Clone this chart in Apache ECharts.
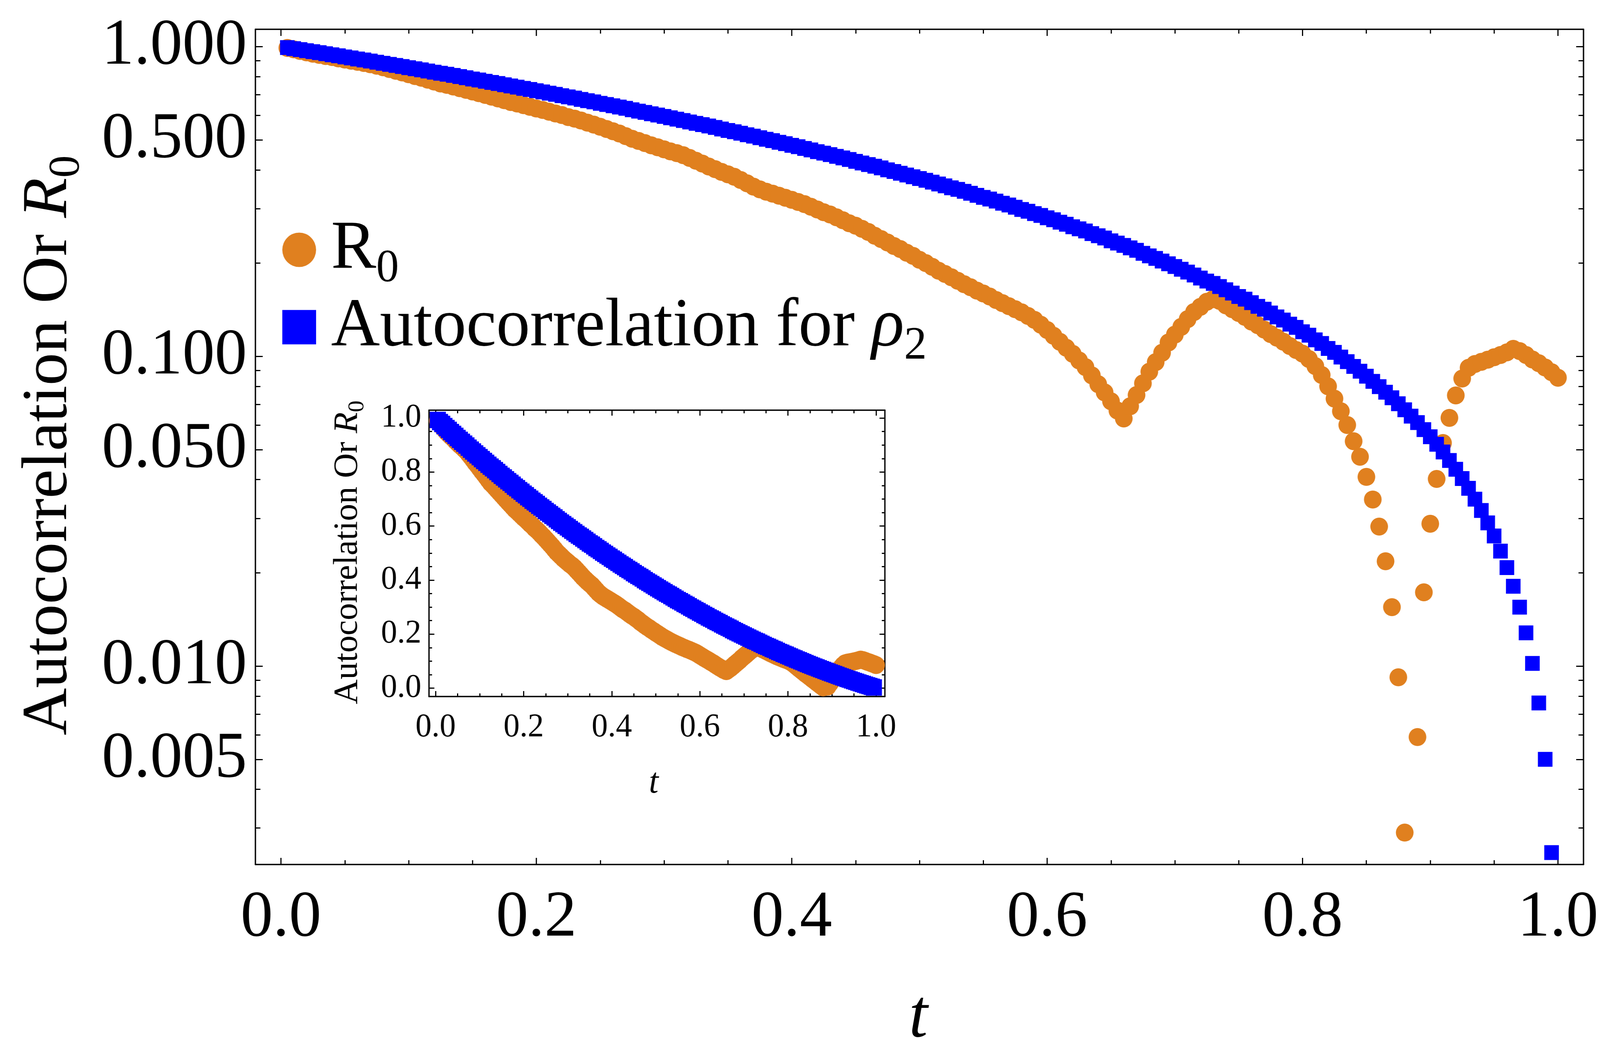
<!DOCTYPE html>
<html>
<head>
<meta charset="utf-8">
<title>Autocorrelation Or R0</title>
<script src="https://cdn.jsdelivr.net/npm/echarts@6.0.0/dist/echarts.min.js"></script>
<style>
  html, body { margin: 0; padding: 0; background: #fff; overflow: hidden; }
  #chart { position: absolute; left: 0; top: 0; width: 4166px; height: 2716px; transform-origin: 0 0; }
</style>
</head>
<body>
<div id="chart"></div>
<script>
// sample times t
var tValues = [
  0.005, 0.010, 0.015, 0.020, 0.025, 0.030, 0.035, 0.040, 0.045, 0.050,
  0.055, 0.060, 0.065, 0.070, 0.075, 0.080, 0.085, 0.090, 0.095, 0.100,
  0.105, 0.110, 0.115, 0.120, 0.125, 0.130, 0.135, 0.140, 0.145, 0.150,
  0.155, 0.160, 0.165, 0.170, 0.175, 0.180, 0.185, 0.190, 0.195, 0.200,
  0.205, 0.210, 0.215, 0.220, 0.225, 0.230, 0.235, 0.240, 0.245, 0.250,
  0.255, 0.260, 0.265, 0.270, 0.275, 0.280, 0.285, 0.290, 0.295, 0.300,
  0.305, 0.310, 0.315, 0.320, 0.325, 0.330, 0.335, 0.340, 0.345, 0.350,
  0.355, 0.360, 0.365, 0.370, 0.375, 0.380, 0.385, 0.390, 0.395, 0.400,
  0.405, 0.410, 0.415, 0.420, 0.425, 0.430, 0.435, 0.440, 0.445, 0.450,
  0.455, 0.460, 0.465, 0.470, 0.475, 0.480, 0.485, 0.490, 0.495, 0.500,
  0.505, 0.510, 0.515, 0.520, 0.525, 0.530, 0.535, 0.540, 0.545, 0.550,
  0.555, 0.560, 0.565, 0.570, 0.575, 0.580, 0.585, 0.590, 0.595, 0.600,
  0.605, 0.610, 0.615, 0.620, 0.625, 0.630, 0.635, 0.640, 0.645, 0.650,
  0.655, 0.660, 0.665, 0.670, 0.675, 0.680, 0.685, 0.690, 0.695, 0.700,
  0.705, 0.710, 0.715, 0.720, 0.725, 0.730, 0.735, 0.740, 0.745, 0.750,
  0.755, 0.760, 0.765, 0.770, 0.775, 0.780, 0.785, 0.790, 0.795, 0.800,
  0.805, 0.810, 0.815, 0.820, 0.825, 0.830, 0.835, 0.840, 0.845, 0.850,
  0.855, 0.860, 0.865, 0.870, 0.875, 0.880, 0.885, 0.890, 0.895, 0.900,
  0.905, 0.910, 0.915, 0.920, 0.925, 0.930, 0.935, 0.940, 0.945, 0.950,
  0.955, 0.960, 0.965, 0.970, 0.975, 0.980, 0.985, 0.990, 0.995, 1.000
];

// R0 (orange circles); null = not positive, off the log axis
var r0Values = [
  0.990, 0.980, 0.968, 0.958, 0.948, 0.940, 0.932, 0.925, 0.916, 0.908,
  0.900, 0.893, 0.885, 0.877, 0.867, 0.857, 0.846, 0.835, 0.825, 0.814,
  0.803, 0.793, 0.782, 0.771, 0.760, 0.752, 0.743, 0.734, 0.725, 0.716,
  0.707, 0.698, 0.689, 0.680, 0.671, 0.662, 0.655, 0.647, 0.639, 0.631,
  0.624, 0.616, 0.608, 0.601, 0.592, 0.585, 0.577, 0.568, 0.560, 0.551,
  0.542, 0.533, 0.524, 0.514, 0.504, 0.496, 0.488, 0.480, 0.473, 0.466,
  0.459, 0.453, 0.446, 0.437, 0.428, 0.419, 0.410, 0.402, 0.394, 0.387,
  0.380, 0.371, 0.362, 0.353, 0.346, 0.340, 0.335, 0.330, 0.325, 0.320,
  0.315, 0.310, 0.304, 0.298, 0.292, 0.287, 0.281, 0.275, 0.269, 0.264,
  0.258, 0.252, 0.245, 0.239, 0.233, 0.227, 0.222, 0.216, 0.211, 0.205,
  0.200, 0.1945, 0.189, 0.1845, 0.180, 0.1754, 0.171, 0.1671, 0.163, 0.1596,
  0.156, 0.152, 0.1485, 0.1452, 0.142, 0.1387, 0.135, 0.1312, 0.1265, 0.1216,
  0.1165, 0.1114, 0.1066, 0.1019, 0.097, 0.0923, 0.0868, 0.0813, 0.0765, 0.0716,
  0.0668, 0.0630, 0.0690, 0.0750, 0.0818, 0.0892, 0.0958, 0.1027, 0.1108, 0.1175,
  0.1245, 0.1318, 0.139, 0.1445, 0.150, 0.153, 0.151, 0.146, 0.142, 0.138,
  0.134, 0.1295, 0.126, 0.122, 0.118, 0.1148, 0.1115, 0.108, 0.1048, 0.102,
  0.098, 0.093, 0.087, 0.080, 0.073, 0.0665, 0.060, 0.0532, 0.0474, 0.0408,
  0.0345, 0.0282, 0.0218, 0.0155, 0.0092, 0.0029, null, 0.0059, 0.0173, 0.0288,
  0.0402, 0.0525, 0.0633, 0.0748, 0.0848, 0.0918, 0.0945, 0.0960, 0.0975, 0.0993,
  0.1010, 0.1030, 0.1057, 0.1040, 0.1010, 0.0977, 0.0950, 0.0920, 0.0889, 0.0853
];

// Autocorrelation for rho2 (blue squares)
var rho2Values = [
  0.993, 0.985, 0.978, 0.970, 0.963, 0.956, 0.948, 0.941, 0.934, 0.926,
  0.919, 0.912, 0.905, 0.898, 0.890, 0.883, 0.876, 0.869, 0.862, 0.855,
  0.848, 0.841, 0.834, 0.827, 0.820, 0.814, 0.807, 0.800, 0.793, 0.786,
  0.780, 0.773, 0.766, 0.760, 0.753, 0.746, 0.740, 0.733, 0.727, 0.720,
  0.714, 0.707, 0.701, 0.694, 0.688, 0.682, 0.675, 0.669, 0.663, 0.656,
  0.650, 0.644, 0.638, 0.632, 0.625, 0.619, 0.613, 0.607, 0.601, 0.595,
  0.589, 0.583, 0.577, 0.571, 0.565, 0.560, 0.554, 0.548, 0.542, 0.536,
  0.531, 0.525, 0.519, 0.514, 0.508, 0.502, 0.497, 0.491, 0.486, 0.480,
  0.475, 0.469, 0.464, 0.458, 0.453, 0.448, 0.442, 0.437, 0.432, 0.426,
  0.421, 0.416, 0.411, 0.406, 0.400, 0.395, 0.390, 0.385, 0.380, 0.375,
  0.370, 0.365, 0.360, 0.355, 0.350, 0.346, 0.341, 0.336, 0.331, 0.326,
  0.322, 0.317, 0.312, 0.308, 0.303, 0.298, 0.294, 0.289, 0.285, 0.280,
  0.276, 0.271, 0.267, 0.262, 0.258, 0.254, 0.249, 0.245, 0.241, 0.236,
  0.232, 0.228, 0.224, 0.220, 0.215, 0.211, 0.207, 0.203, 0.199, 0.195,
  0.191, 0.187, 0.183, 0.179, 0.175, 0.172, 0.168, 0.164, 0.160, 0.156,
  0.153, 0.149, 0.145, 0.142, 0.138, 0.134, 0.131, 0.127, 0.124, 0.120,
  0.117, 0.113, 0.110, 0.106, 0.103, 0.0995, 0.0961, 0.0928, 0.0895, 0.0863,
  0.0830, 0.0798, 0.0766, 0.0735, 0.0703, 0.0672, 0.0641, 0.0611, 0.0580, 0.0550,
  0.0520, 0.0491, 0.0461, 0.0432, 0.0403, 0.0375, 0.0346, 0.0318, 0.0290, 0.0263,
  0.0235, 0.0208, 0.0181, 0.0155, 0.0128, 0.0102, 0.0076, 0.0050, 0.0025, null
];

// tick marks
var xMajorTicks = [0, 0.2, 0.4, 0.6, 0.8, 1.0];
var xMinorTicks = [0.05, 0.1, 0.15, 0.25, 0.3, 0.35, 0.45, 0.5, 0.55, 0.65, 0.7, 0.75, 0.85, 0.9, 0.95];
var yMajorTicks = [0.005, 0.01, 0.05, 0.1, 0.5, 1];
var yMinorTicks = [0.003, 0.004, 0.006, 0.007, 0.008, 0.009, 0.02, 0.03, 0.04, 0.06, 0.07, 0.08, 0.09,
                   0.2, 0.3, 0.4, 0.6, 0.7, 0.8, 0.9];
var insetYMajorTicks = [0, 0.2, 0.4, 0.6, 0.8, 1.0];
var insetYMinorTicks = [0.05, 0.1, 0.15, 0.25, 0.3, 0.35, 0.45, 0.5, 0.55, 0.65, 0.7, 0.75, 0.85, 0.9, 0.95];

var FONT = 'Liberation Serif';
var ORANGE = '#e0801f';
var BLUE = '#0000ff';

// fit the 4166x2716 drawing to whatever the viewport really is
var W = 4166, H = 2716;
var box = document.getElementById('chart');
var vw = window.innerWidth || W, vh = window.innerHeight || H;
if (Math.abs(vw - W) > 1 || Math.abs(vh - H) > 1) {
    box.style.transform = 'scale(' + (vw / W) + ',' + (vh / H) + ')';
}

function pairs(vals, useLog) {
    var out = [];
    for (var i = 0; i < tValues.length; i++) {
        if (vals[i] == null) continue;
        out.push([tValues[i], useLog ? Math.log10(vals[i]) : vals[i]]);
    }
    return out;
}
function logs(arr) { return arr.map(function (v) { return Math.log10(v); }); }

// one frame side: line + inward ticks, labels optional
function axis(grid, pos, min, max, ticks, tickLen, line, label) {
    var a = {
        type: 'value', gridIndex: grid, position: pos, min: min, max: max,
        axisLine: { show: line, onZero: false, lineStyle: { color: '#000', width: 3.5 } },
        axisTick: { show: true, inside: true, length: tickLen, customValues: ticks,
                    lineStyle: { color: '#000', width: 3 } },
        axisLabel: { show: false },
        splitLine: { show: false }
    };
    if (label) {
        a.axisLabel = {
            show: true, customValues: ticks, margin: label.margin,
            formatter: label.formatter, color: '#000',
            fontFamily: FONT, fontSize: label.size
        };
    }
    return a;
}

var X0 = -0.02, X1 = 1.02;
var Y0 = Math.log10(0.002288), Y1 = Math.log10(1.137);
var IX0 = -0.015, IX1 = 1.02;
var IY0 = -0.031, IY1 = 1.029;

var fmt1 = function (v) { return v.toFixed(1); };
var fmtLog = function (v) { return Math.pow(10, v).toFixed(3); };

var xAxes = [
    axis(0, 'bottom', X0, X1, xMajorTicks, 17, true, { margin: 54, size: 168, formatter: fmt1 }),
    axis(0, 'bottom', X0, X1, xMinorTicks, 11, false),
    axis(0, 'top', X0, X1, xMajorTicks, 17, true),
    axis(0, 'top', X0, X1, xMinorTicks, 11, false),
    axis(1, 'bottom', IX0, IX1, xMajorTicks, 14, true, { margin: 38, size: 84, formatter: fmt1 }),
    axis(1, 'bottom', IX0, IX1, xMinorTicks, 8, false),
    axis(1, 'top', IX0, IX1, xMajorTicks, 14, true),
    axis(1, 'top', IX0, IX1, xMinorTicks, 8, false)
];
var yAxes = [
    axis(0, 'left', Y0, Y1, logs(yMajorTicks), 19, true, { margin: 22, size: 168, formatter: fmtLog }),
    axis(0, 'left', Y0, Y1, logs(yMinorTicks), 13, false),
    axis(0, 'right', Y0, Y1, logs(yMajorTicks), 19, true),
    axis(0, 'right', Y0, Y1, logs(yMinorTicks), 13, false),
    axis(1, 'left', IY0, IY1, insetYMajorTicks, 14, true, { margin: 20, size: 84, formatter: fmt1 }),
    axis(1, 'left', IY0, IY1, insetYMinorTicks, 8, false),
    axis(1, 'right', IY0, IY1, insetYMajorTicks, 14, true),
    axis(1, 'right', IY0, IY1, insetYMinorTicks, 8, false)
];

var myChart = echarts.init(box, null, { width: W, height: H });
var option = {
    animation: false,
    backgroundColor: '#fff',
    grid: [
        { left: 665, top: 75, width: 3458, height: 2138, outerBoundsMode: 'none', containLabel: false },
        { left: 1117, top: 1050, width: 1187, height: 733, outerBoundsMode: 'none', containLabel: false,
          show: true, backgroundColor: '#fff', borderWidth: 0 }
    ],
    xAxis: xAxes,
    yAxis: yAxes,
    legend: {
        orient: 'vertical', left: 735, top: 531, padding: 0,
        itemWidth: 88, itemHeight: 88, itemGap: -19, selectedMode: false,
        data: [{ name: 'R0', icon: 'circle' }, { name: 'rho2', icon: 'rect' }],
        formatter: function (name) {
            return name === 'R0' ? '{n|R}{s|0}' : '{n|Autocorrelation for }{i|\u03c1}{s|2}';
        },
        textStyle: {
            color: '#000', fontFamily: FONT, fontSize: 176, padding: [0, 0, 0, 34],
            rich: {
                n: { fontFamily: FONT, fontSize: 176, lineHeight: 176, color: '#000' },
                i: { fontFamily: FONT, fontSize: 176, lineHeight: 176, fontStyle: 'italic', color: '#000' },
                s: { fontFamily: FONT, fontSize: 118, lineHeight: 77, padding: [99, 0, 0, 0], color: '#000' }
            }
        }
    },
    graphic: [
        {
            type: 'text', x: 128, y: 1140, rotation: Math.PI / 2, silent: true,
            style: {
                text: '{n|Autocorrelation Or }{i|R}{s|0}',
                align: 'center', verticalAlign: 'middle',
                textAlign: 'center', textVerticalAlign: 'middle',
                fontFamily: FONT, fontSize: 168, fill: '#000',
                rich: {
                    n: { fontFamily: FONT, fontSize: 168, lineHeight: 168, fill: '#000' },
                    i: { fontFamily: FONT, fontSize: 168, lineHeight: 168, fontStyle: 'italic', fill: '#000' },
                    s: { fontFamily: FONT, fontSize: 115, lineHeight: 75, padding: [93, 0, 0, 0], fill: '#000' }
                }
            }
        },
        {
            type: 'text', x: 2391, y: 2607, silent: true,
            style: {
                text: 't', align: 'center', verticalAlign: 'middle',
                textAlign: 'center', textVerticalAlign: 'middle',
                fontFamily: FONT, fontSize: 175, fontStyle: 'italic', fill: '#000'
            }
        },
        {
            type: 'text', x: 906, y: 1414, rotation: Math.PI / 2, silent: true,
            style: {
                text: '{n|Autocorrelation Or }{i|R}{s|0}',
                align: 'center', verticalAlign: 'middle',
                textAlign: 'center', textVerticalAlign: 'middle',
                fontFamily: FONT, fontSize: 88, fill: '#000',
                rich: {
                    n: { fontFamily: FONT, fontSize: 88, lineHeight: 88, fill: '#000' },
                    i: { fontFamily: FONT, fontSize: 88, lineHeight: 88, fontStyle: 'italic', fill: '#000' },
                    s: { fontFamily: FONT, fontSize: 60, lineHeight: 39, padding: [49, 0, 0, 0], fill: '#000' }
                }
            }
        },
        {
            type: 'text', x: 1702, y: 2005, silent: true,
            style: {
                text: 't', align: 'center', verticalAlign: 'middle',
                textAlign: 'center', textVerticalAlign: 'middle',
                fontFamily: FONT, fontSize: 90, fontStyle: 'italic', fill: '#000'
            }
        }
    ],
    series: [
        {
            name: 'R0', type: 'scatter', xAxisIndex: 0, yAxisIndex: 0,
            symbol: 'circle', symbolSize: 46, silent: true, z: 2,
            itemStyle: { color: ORANGE, opacity: 1 },
            data: pairs(r0Values, true)
        },
        {
            name: 'rho2', type: 'scatter', xAxisIndex: 0, yAxisIndex: 0,
            symbol: 'rect', symbolSize: 38, silent: true, z: 3,
            itemStyle: { color: BLUE, opacity: 1 },
            data: pairs(rho2Values, true)
        },
        {
            name: 'R0', type: 'scatter', xAxisIndex: 4, yAxisIndex: 4,
            symbol: 'circle', symbolSize: 46, silent: true, z: 4,
            itemStyle: { color: ORANGE, opacity: 1 },
            data: pairs(r0Values, false)
        },
        {
            name: 'rho2', type: 'scatter', xAxisIndex: 4, yAxisIndex: 4,
            symbol: 'rect', symbolSize: 42, silent: true, z: 5,
            itemStyle: { color: BLUE, opacity: 1 },
            data: pairs(rho2Values, false)
        }
    ]
};
myChart.setOption(option);
</script>
</body>
</html>
